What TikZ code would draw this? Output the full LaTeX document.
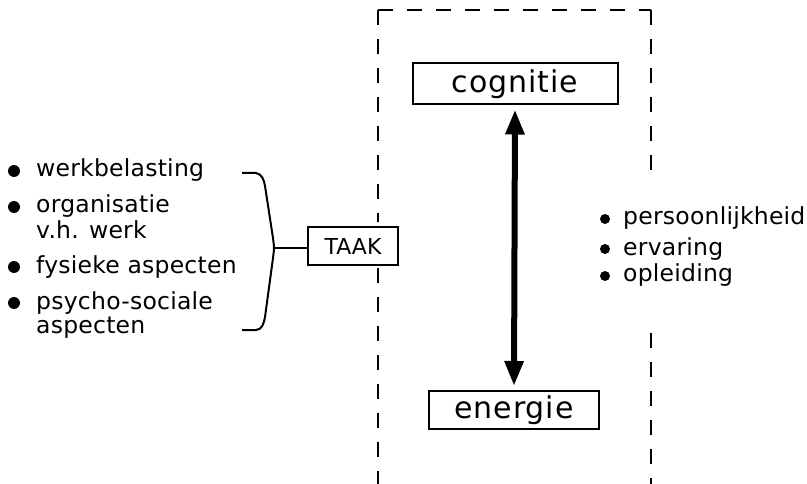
\documentclass[tikz,border=0pt]{standalone}
\usepackage{fontspec}
\setmainfont{DejaVu Sans}
\newfontfamily\boxfont[LetterSpace=3]{DejaVu Sans}
\newfontfamily\listfont[LetterSpace=1]{DejaVu Sans}
\usetikzlibrary{arrows.meta}
\begin{document}
\begin{tikzpicture}[x=1pt,y=-1pt,
  framebox/.style={draw,line width=2pt,inner sep=0pt,font=\boxfont\fontsize{30}{32}\selectfont},
  smallbox/.style={draw,line width=2pt,inner sep=0pt,font=\fontsize{22}{24}\selectfont},
  itemtext/.style={anchor=base west,inner sep=0pt,font=\listfont\fontsize{23.5}{25}\selectfont},
  bullet/.style={circle,fill=black,inner sep=0pt,minimum size=12pt},
  dashline/.style={line width=1.8pt,dash pattern=on 15pt off 14pt},
  bracket/.style={line width=2pt},
  twoway/.style={line width=6pt,{Triangle[width=18pt,length=25pt]}-{Triangle[width=18pt,length=25pt]}}]
\useasboundingbox (0,0) rectangle (807,484);

% dashed frame, open at the bottom
\draw[dashline] (378,10) -- (378,222);
\draw[dashline] (378,268) -- (378,484);
\draw[dashline] (378,10) -- (651,10);
\draw[dashline] (651,10) -- (651,183);
\draw[dashline] (651,333) -- (651,484);

% boxes
\node[framebox,minimum width=205pt,minimum height=41pt] (cog) at (515,84) {cognitie};
\node[framebox,minimum width=170pt,minimum height=38pt] (ene) at (514,410) {energie};
\node[smallbox,minimum width=90pt,minimum height=38pt] (taak) at (353,246) {TAAK};

% double arrow between cognitie and energie
\draw[twoway] ([yshift=-4pt]cog.south) -- ([yshift=4pt]ene.north);

% task factors on the left
\node[bullet] (b1) at (14,171) {};
\node[itemtext] (t1) at (36,177) {werkbelasting};
\node[bullet] (b2) at (14,207) {};
\node[itemtext] (t2) at (36,213) {organisatie};
\node[itemtext] (t2b) at (36,239) {v.h. werk};
\node[bullet] (b3) at (14,267) {};
\node[itemtext] (t3) at (36,273) {fysieke aspecten};
\node[bullet] (b4) at (14,303) {};
\node[itemtext] (t4) at (36,309) {psycho-sociale};
\node[itemtext] (t4b) at (36,334) {aspecten};

% brace gathering them into TAAK
\coordinate (brtip) at (274,248);
\draw[bracket,line join=round] (242,173) -- (256,173) .. controls (262,174) and (264,180) .. (265,186)
  -- (273,238) .. controls (273.5,242) and (274,246) .. (brtip)
  .. controls (274,250) and (273.5,254) .. (273,258) -- (265,317)
  .. controls (264,323) and (262,330) .. (256,330) -- (242,330);
\draw[bracket] (brtip) -- (brtip -| taak.west);

% personal factors on the right
\node[bullet,minimum size=10pt] (r1) at (605,219) {};
\node[itemtext] (p1) at (623,225) {persoonlijkheid};
\node[bullet,minimum size=10pt] (r2) at (605,249) {};
\node[itemtext] (p2) at (623,255) {ervaring};
\node[bullet,minimum size=10pt] (r3) at (605,276) {};
\node[itemtext] (p3) at (623,282) {opleiding};
\end{tikzpicture}
\end{document}
